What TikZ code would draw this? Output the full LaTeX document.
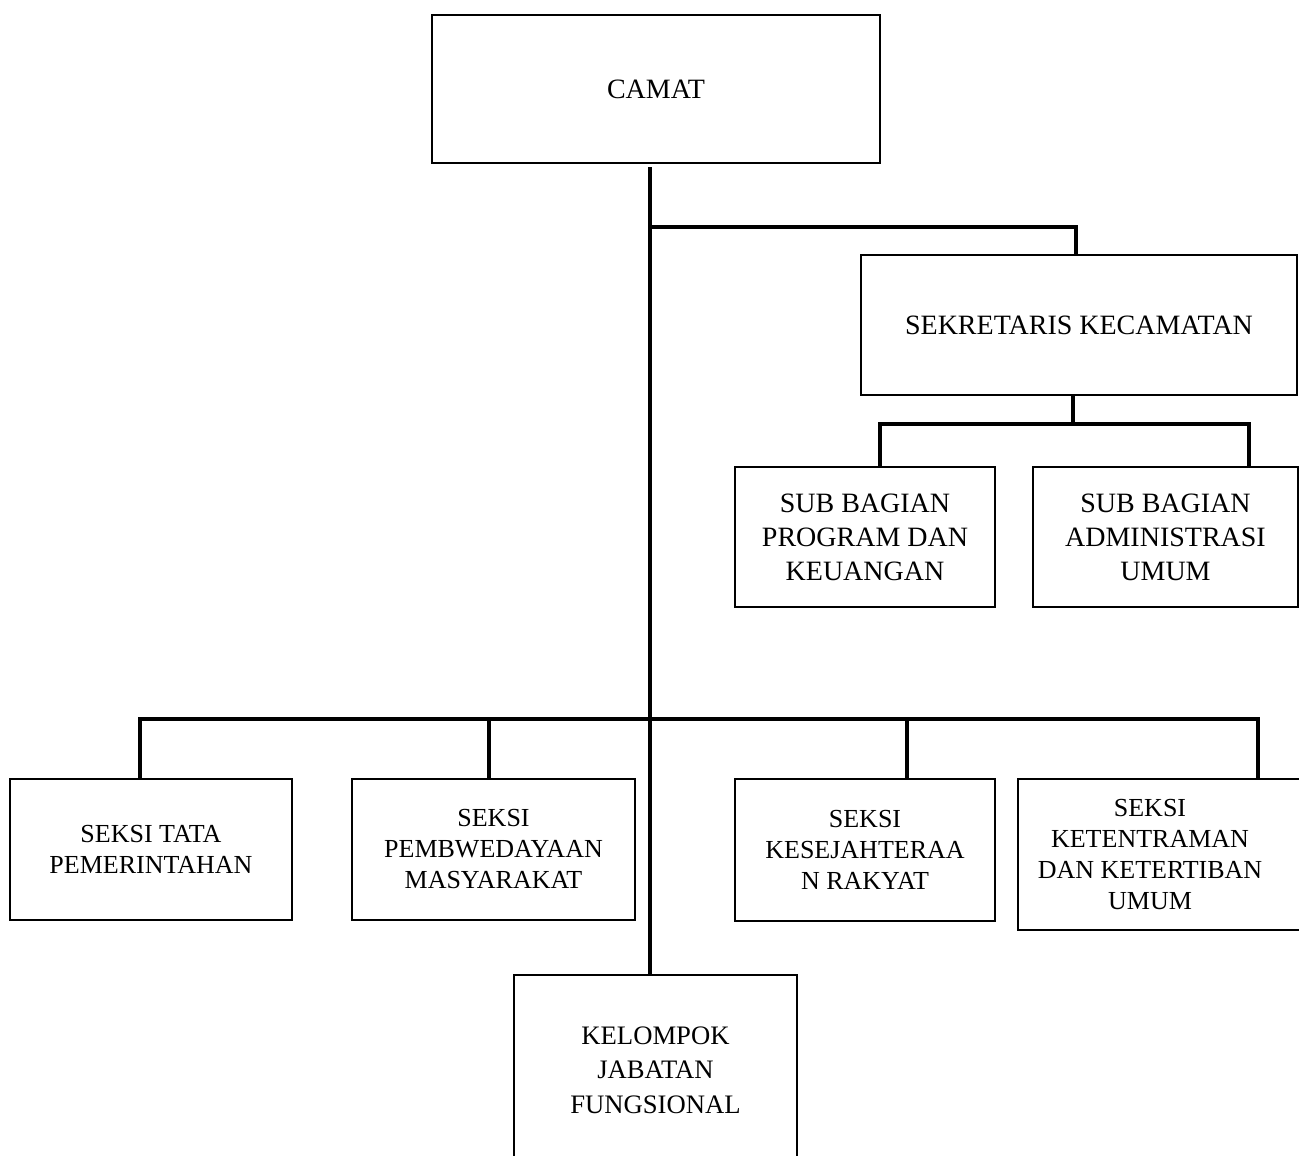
\documentclass[tikz,border=0pt]{standalone}
\usepackage{fontspec}
\setmainfont{Liberation Serif}
\begin{document}
\begin{tikzpicture}[x=0.75pt,y=-0.75pt,
 box/.style={draw, line width=1.7pt, inner sep=0pt, outer sep=0pt, align=center},
 topf/.style={font=\fontsize{21}{25.5}\selectfont},
 lowf/.style={font=\fontsize{19.5}{23.25}\selectfont},
 kelf/.style={font=\fontsize{20}{26}\selectfont},
 conn/.style={line width=3pt}]
\useasboundingbox (0,0) rectangle (1299,1156);
\fill[white] (0,0) rectangle (1299,1156);
\clip (0,0) rectangle (1299,1156);
% boxes
\node[box,topf,minimum width=336pt,minimum height=111pt] (camat) at (656,89) {CAMAT};
\node[box,topf,minimum width=327pt,minimum height=105pt] (sek) at (1079,325) {SEKRETARIS KECAMATAN};
\node[box,topf,minimum width=195pt,minimum height=105pt] (sbp) at (865,537) {SUB BAGIAN\\PROGRAM DAN\\KEUANGAN};
\node[box,topf,minimum width=198.75pt,minimum height=105pt] (sba) at (1165.5,537) {SUB BAGIAN\\ADMINISTRASI\\UMUM};
\node[box,lowf,minimum width=211.5pt,minimum height=105.75pt] (tata) at (151,849.5) {SEKSI TATA\\PEMERINTAHAN};
\node[box,lowf,minimum width=212.25pt,minimum height=105.75pt] (pem) at (493.5,849.5) {SEKSI\\PEMBWEDAYAAN\\MASYARAKAT};
\node[box,lowf,minimum width=195pt,minimum height=106.5pt] (kes) at (865,850) {SEKSI\\KESEJAHTERAA\\N RAKYAT};
\node[box,minimum width=234pt,minimum height=113.25pt,
  label={[lowf,align=center,xshift=-18pt]center:SEKSI\\KETENTRAMAN\\DAN KETERTIBAN\\UMUM}] (ket) at (1174,854.5) {};
\node[box,kelf,minimum width=212.25pt,minimum height=142.5pt] (kel) at (655.5,1070) {KELOMPOK\\JABATAN\\FUNGSIONAL};
% junction points
\coordinate (t1) at (650,227);
\coordinate (s1) at (1076,227);
\coordinate (s2) at (1073,424);
\coordinate (a1) at (880,424);
\coordinate (a2) at (1249,424);
\coordinate (h0) at (140,719);
\coordinate (h1) at (489,719);
\coordinate (h2) at (907,719);
\coordinate (h3) at (1258,719);
% connectors
\draw[conn, shorten <=3pt] (camat.south -| t1) -- (kel.north -| t1);
\draw[conn] (t1) -- (s1) -- (s1 |- sek.north);
\draw[conn] (sek.south -| s2) -- (s2);
\draw[conn] (a1 |- sbp.north) -- (a1) -- (a2) -- (a2 |- sba.north);
\draw[conn] (h0 |- tata.north) -- (h0) -- (h3) -- (h3 |- ket.north);
\draw[conn] (h1) -- (h1 |- pem.north);
\draw[conn] (h2) -- (h2 |- kes.north);
\end{tikzpicture}
\end{document}
